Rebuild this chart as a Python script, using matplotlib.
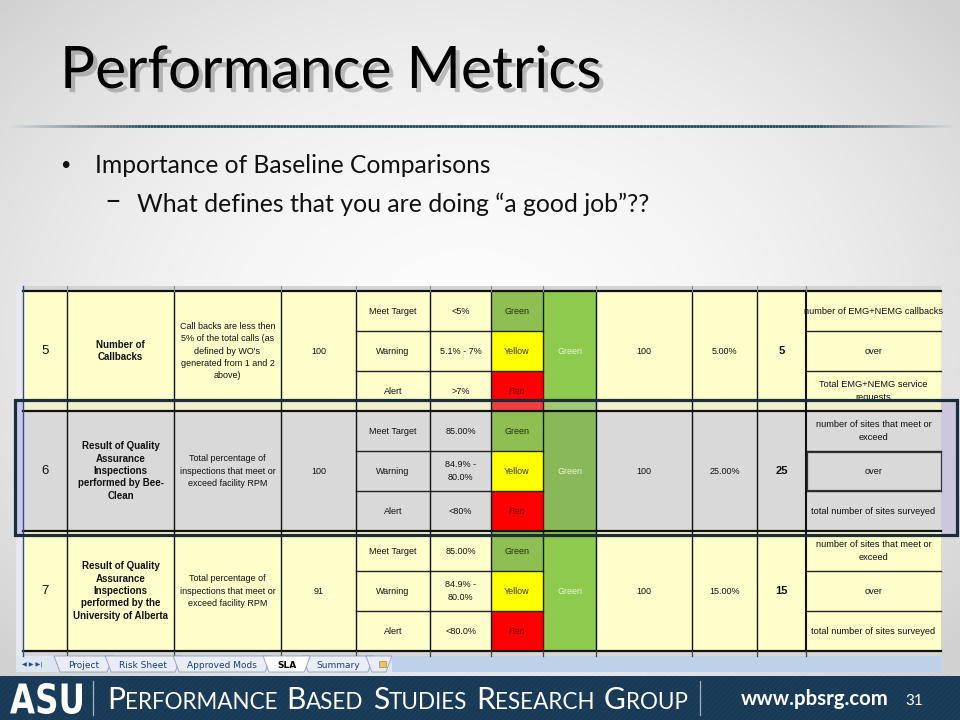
import numpy as np
import matplotlib
matplotlib.use("Agg")
import matplotlib.pyplot as plt
import matplotlib.patheffects as pe
from matplotlib.patches import Rectangle, Polygon, PathPatch
from matplotlib.textpath import TextPath
from matplotlib.font_manager import FontProperties
from matplotlib.collections import LineCollection
import matplotlib.transforms as mtransforms

# slide text
title = "Performance Metrics"
bullet_1 = "Importance of Baseline Comparisons"
bullet_2 = "What defines that you are doing \u201ca good job\u201d??"
footer_words = ["Performance", "Based", "Studies", "Research", "Group"]
footer_url = "www.pbsrg.com"
page_no = "31"

# spreadsheet content (one entry per metric row)
row_ids = ["5", "6", "7"]
metrics = ["Number of\nCallbacks",
           "Result of Quality\nAssurance\nInspections\nperformed by Bee-\nClean",
           "Result of Quality\nAssurance\nInspections\nperformed by the\nUniversity of Alberta"]
descriptions = ["Call backs are less then\n5% of the total calls (as\ndefined by WO's\ngenerated from 1 and 2\nabove)",
                "Total percentage of\ninspections that meet or\nexceed facility RPM",
                "Total percentage of\ninspections that meet or\nexceed facility RPM"]
weights = ["100", "100", "91"]
levels = ["Meet Target", "Warning", "Alert"]
thresholds = [["<5%", "5.1% - 7%", ">7%"],
              ["85.00%", "84.9% -\n80.0%", "<80%"],
              ["85.00%", "84.9% -\n80.0%", "<80.0%"]]
flags = ["Green", "Yellow", "Red"]
status = ["Green", "Green", "Green"]
max_points = ["100", "100", "100"]
scores = ["5.00%", "25.00%", "15.00%"]
points = ["5", "25", "15"]
notes = [["number of EMG+NEMG callbacks", "over", "Total EMG+NEMG service\nrequests"],
         ["number of sites that meet or\nexceed", "over", "total number of sites surveyed"],
         ["number of sites that meet or\nexceed", "over", "total number of sites surveyed"]]
sheet_tabs = ["Project", "Risk Sheet", "Approved Mods", "SLA", "Summary"]
active_tab = "SLA"

# layout / styles
col_x = [23, 67, 174, 281, 356, 430, 491, 543, 596, 692, 757, 806, 941]
row_top, row_h = 291, 120
row_fill = ["#ffffcc", "#d9d9d9", "#ffffcc"]
status_fill = ["#8dca4e", "#89b85a", "#8dca4e"]
flag_fill = {"Green": "#8fbf52", "Yellow": "#ffff00", "Red": "#ff0000"}
flag_text = {"Green": "#1d300c", "Yellow": "#3a3a00", "Red": "#7a0000"}
TFONT = "Liberation Sans"
SLIDE_FONT = "Lato"
plt.rcParams["hatch.linewidth"] = 0.5

fig = plt.figure(figsize=(9.6, 7.2), dpi=100)
ax = fig.add_axes([0, 0, 1, 1])
ax.set_xlim(0, 960)
ax.set_ylim(720, 0)
ax.axis("off")
renderer = fig.canvas.get_renderer()

# background: soft grey radial gradient
yy, xx = np.mgrid[0:720:2, 0:960:2]
r = np.sqrt(((xx - 470) / 620.0) ** 2 + ((yy - 330) / 480.0) ** 2)
shade = np.clip(0.985 - 0.16 * r ** 2, 0.82, 1.0)
ax.imshow(np.dstack([shade, shade, shade]), extent=(0, 960, 720, 0), zorder=0, aspect="auto")


def fit_text(x, y, s, width, size0=20, **kw):
    t = ax.text(x, y, s, fontsize=size0, **kw)
    w = t.get_window_extent(renderer).width
    t.set_fontsize(size0 * width / w)
    return t


# title with a drop shadow
fit_text(60, 88, title, 543, family=SLIDE_FONT, color="black", va="baseline",
         path_effects=[pe.withSimplePatchShadow(offset=(3, -3), shadow_rgbFace="#555555", alpha=0.35)])

# rule under the title
xs = np.linspace(8, 952, 300)
segs = [[(xs[i], 126), (xs[i + 1], 126)] for i in range(len(xs) - 1)]
alpha = np.clip(np.minimum((xs[:-1] - 8) / 140, (952 - xs[:-1]) / 140), 0, 1)
cols = [(0.15, 0.29, 0.36, a) for a in alpha]
ax.add_collection(LineCollection(segs, colors=cols, linewidths=2.0))

# bullets
ax.text(60, 165, "\u2022", fontsize=13, family=SLIDE_FONT, va="center", ha="left", color="#111")
fit_text(95, 173, bullet_1, 397, family=SLIDE_FONT, color="#111", va="baseline")
ax.text(104, 202, "\u2013", fontsize=21, family=SLIDE_FONT, va="center", ha="left", color="#111")
fit_text(137, 212, bullet_2, 514, family=SLIDE_FONT, color="#111", va="baseline")

# ---------------- spreadsheet screenshot ----------------
ax.add_patch(Rectangle((16, 286), 925, 386, fc="#f0f0f0", ec="none", zorder=1))
ax.add_patch(Rectangle((16, 286), 925, 5, fc="#d4d4d4", ec="none", zorder=1))
ax.add_patch(Rectangle((16, 286), 7, 370, fc="#e6e9f1", ec="none", zorder=1))
ax.add_patch(Rectangle((941, 401), 15, 133, fc="#ccc7df", ec="none", zorder=1))
ax.add_patch(Rectangle((16, 401), 7, 133, fc="#c9c8ee", ec="none", zorder=2))

x0, x1 = col_x[0], col_x[-1]
for i, rid in enumerate(row_ids):
    top = row_top + i * row_h
    sub = row_h / 3.0
    ax.add_patch(Rectangle((x0, top), x1 - x0, row_h, fc=row_fill[i], ec="none", zorder=2))
    for k, fl in enumerate(flags):
        ax.add_patch(Rectangle((col_x[6], top + k * sub), col_x[7] - col_x[6], sub,
                               fc=flag_fill[fl], ec="none", zorder=2))
    ax.add_patch(Rectangle((col_x[7], top), col_x[8] - col_x[7], row_h, fc=status_fill[i],
                           ec="none", zorder=2))

    cy = top + row_h / 2.0

    def cell(c, y, s, **kw):
        xc = (col_x[c] + col_x[c + 1]) / 2.0
        opts = dict(ha="center", va="center", fontsize=6.5, family=TFONT, color="#111",
                    linespacing=1.45, zorder=5)
        opts.update(kw)
        return ax.text(xc, y, s, **opts)

    cell(0, cy, rid, fontsize=9.5)
    cell(1, cy, metrics[i], weight="bold", fontsize=7.0, linespacing=1.3)
    cell(2, cy, descriptions[i])
    cell(3, cy, weights[i])
    cell(7, cy, status[i], color="#e8f6d6")
    cell(8, cy, max_points[i])
    cell(9, cy, scores[i])
    cell(10, cy, points[i], weight="bold", fontsize=8)
    for k in range(3):
        sy = top + (k + 0.5) * sub
        cell(4, sy, levels[k])
        cell(5, sy, thresholds[i][k])
        cell(6, sy, flags[k], color=flag_text[flags[k]])
        t = cell(11, sy, notes[i][k], fontsize=6.7)
        h = min(sub, 399 - (top + k * sub)) if i == 0 and k == 2 else sub
        clip = Rectangle((col_x[11] + 1, top + k * sub), col_x[12] - col_x[11] - 2, h,
                         transform=ax.transData)
        t.set_clip_path(clip)

    # grid lines
    ax.plot([x0, x1], [top, top], color="#111", lw=1.6, zorder=6)
    for k in (1, 2):
        yk = top + k * sub
        ax.plot([col_x[4], col_x[7]], [yk, yk], color="#222", lw=1.0, zorder=6)
        ax.plot([col_x[11], x1], [yk, yk], color="#222", lw=1.0, zorder=6)
    for c in range(1, 12):
        ax.plot([col_x[c], col_x[c]], [top, top + row_h], color="#111",
                lw=1.5 if c == 11 else 1.0, zorder=6)

ybot = row_top + 3 * row_h
ax.plot([x0, x1], [ybot, ybot], color="#111", lw=1.6, zorder=6)
for c in range(1, 12):
    ax.plot([col_x[c], col_x[c]], [286, 291], color="#888", lw=0.8, zorder=6)
    ax.plot([col_x[c], col_x[c]], [ybot, 656], color="#444", lw=0.9, zorder=6)
ax.plot([x0, x0], [286, 656], color="#2c48a8", lw=1.0, zorder=6)
ax.add_patch(Rectangle((x0, ybot + 1), x1 - x0, 656 - ybot - 1, fc="#d6d6d6", ec="none", zorder=3))

# selected "over" cell in row 6
ax.add_patch(Rectangle((col_x[11] + 1, row_top + row_h + 41), col_x[12] - col_x[11] - 1, 38,
                       fill=False, ec="#333", lw=0.9, zorder=7))

# dim band where the selection frame overlaps row 5
ax.add_patch(Rectangle((x0, 401), x1 - x0, 10, fc="#cfcfcf", alpha=0.3, ec="none", zorder=4))

# selection frame
ax.add_patch(Rectangle((15, 400), 942, 135, fill=False, ec="#1b2d3b", lw=2.3, zorder=8))

# sheet tab bar
ax.add_patch(Rectangle((16, 656), 925, 16, fc="#dde5f1", ec="none", zorder=3))
ax.text(22, 664, "\u25c0 \u25b6 \u25b6|", fontsize=4.5, family="DejaVu Sans", color="#2a4b8a",
        va="center", ha="left", zorder=9)
tx = 58
for name in sheet_tabs:
    bold = name == active_tab
    t = ax.text(0, 665, name, fontsize=6.5, family="DejaVu Sans", va="center", ha="left",
                color="black" if bold else "#1c3d78", weight="bold" if bold else "normal", zorder=9)
    w = t.get_window_extent(renderer).width
    t.set_x(tx + 10)
    tw = w + 20
    poly = [(tx - 4, 656), (tx + tw + 4, 656), (tx + tw - 2, 672), (tx + 2, 672)]
    ax.add_patch(Polygon(poly, closed=True, fc="white" if bold else "#e9eef6",
                         ec="#8a9bb8", lw=0.6, zorder=8 if bold else 7))
    tx += tw
ax.add_patch(Polygon([(tx - 4, 656), (tx + 22, 656), (tx + 16, 672), (tx + 2, 672)], closed=True,
                     fc="#e9eef6", ec="#8a9bb8", lw=0.6, zorder=7))
ax.add_patch(Rectangle((tx + 9, 661), 7, 6, fc="#f0c060", ec="#8a7030", lw=0.4, zorder=8))
ax.add_patch(Rectangle((tx + 22, 656), 941 - tx - 22, 16, fc="#bed1ea", ec="none", zorder=4))

# ---------------- footer banner ----------------
ax.add_patch(Rectangle((0, 676), 960, 44, fc="#193a57", ec="none", zorder=10))
ax.add_patch(Rectangle((0, 676), 960, 44, fc="none", ec="#21435f", hatch="//////", lw=0, zorder=10))

logo = TextPath((0, 0), "ASU", size=10, prop=FontProperties(family="DejaVu Sans", weight="bold"))
bb = logo.get_extents()
sx = (82 - 10) / bb.width
sy = (714 - 683) / bb.height
tr = mtransforms.Affine2D().translate(-bb.x0, -bb.y0).scale(sx, -sy).translate(10, 714)
ax.add_patch(PathPatch(tr.transform_path(logo), fc="white", ec="none", zorder=11))

for xs_ in (93, 700):
    ax.plot([xs_, xs_], [681, 715], color="#9fb2c6", lw=0.9, zorder=11)


def small_caps(x, y, big, small):
    items = []
    for word in footer_words:
        t = ax.text(x, y, word[0], fontsize=big, family=SLIDE_FONT, color="white",
                    va="baseline", ha="left", zorder=12)
        x += t.get_window_extent(renderer).width
        items.append(t)
        t = ax.text(x, y, word[1:].upper(), fontsize=small, family=SLIDE_FONT, color="white",
                    va="baseline", ha="left", zorder=12)
        x += t.get_window_extent(renderer).width + big * 0.42
        items.append(t)
    return items, x - big * 0.42


items, xe = small_caps(107, 709, 22, 16.5)
scale = (690 - 107) / (xe - 107)
for t in items:
    t.remove()
small_caps(107, 709, 22 * scale, 16.5 * scale)

fit_text(741, 705, footer_url, 148, family=SLIDE_FONT, color="white", weight="bold",
         va="baseline", zorder=12)
ax.text(905, 705, page_no, fontsize=11, family=SLIDE_FONT, color="white", va="baseline", zorder=12)

fig.savefig("out.png", dpi=100)
